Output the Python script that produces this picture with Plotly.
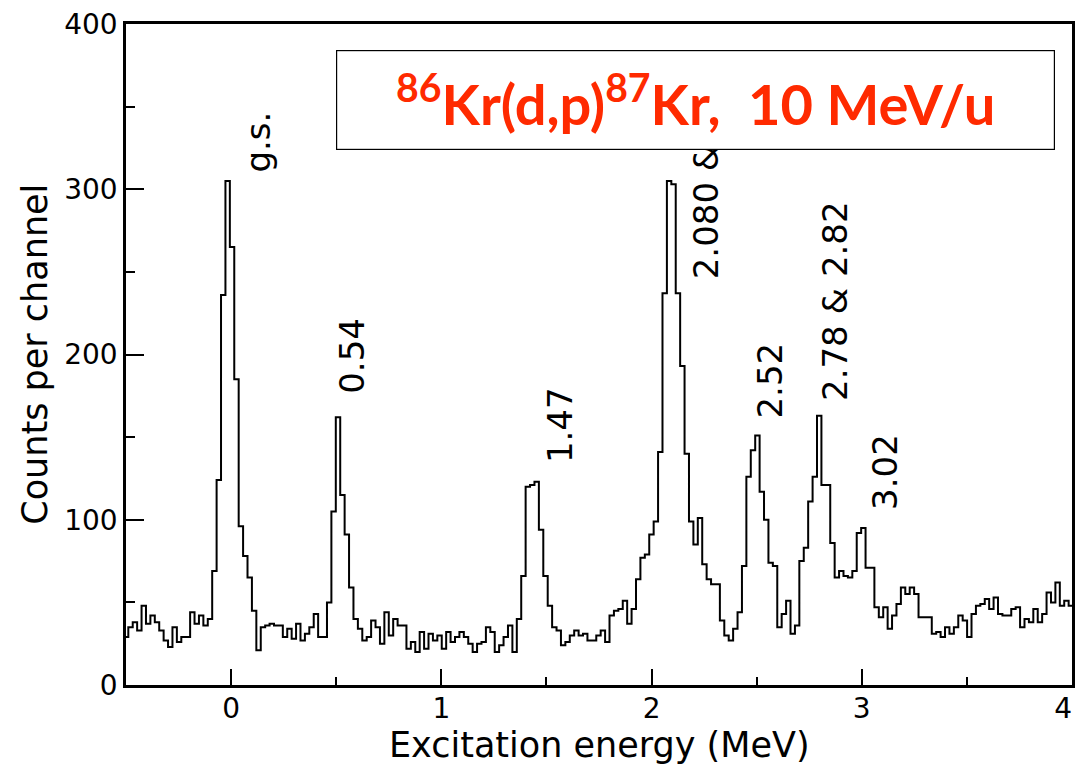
import numpy as np
import plotly.graph_objects as go

# Counts per channel, channel k covers E_START + k*CH_WIDTH
counts = [
    29, 35, 38, 33, 48, 37, 42, 38, 33, 27,
    23, 35, 26, 29, 29, 44, 37, 42, 36, 40,
    69, 124, 236, 305, 265, 185, 96, 78, 65, 45,
    21, 35, 36, 37, 36, 36, 29, 34, 28, 37,
    27, 31, 35, 43, 29, 29, 50, 105, 162, 115,
    91, 59, 40, 34, 27, 29, 39, 35, 25, 44,
    30, 40, 36, 36, 22, 26, 20, 32, 22, 31,
    27, 30, 22, 32, 26, 29, 32, 29, 25, 20,
    25, 26, 35, 32, 20, 24, 29, 36, 20, 40,
    66, 120, 121, 123, 94, 66, 48, 35, 33, 24,
    26, 30, 33, 30, 31, 27, 27, 30, 33, 26,
    42, 45, 46, 51, 37, 46, 64, 77, 79, 91,
    99, 141, 237, 305, 303, 237, 193, 140, 99, 85,
    101, 73, 64, 61, 61, 39, 30, 27, 34, 44,
    72, 126, 142, 151, 117, 100, 74, 72, 35, 43,
    51, 31, 36, 75, 83, 111, 126, 163, 121, 121,
    86, 65, 69, 66, 65, 69, 92, 95, 71, 71,
    47, 41, 47, 34, 42, 49, 59, 55, 59, 55,
    41, 41, 41, 31, 32, 29, 35, 31, 35, 42,
    39, 29, 43, 48, 49, 52, 46, 53, 43, 42,
    42, 46, 47, 35, 40, 38, 46, 38, 43, 56,
    50, 62, 48, 51, 48,
]
E_START = -0.510   # MeV, left edge of first channel
CH_WIDTH = 0.021   # MeV per channel

# Peak labels
peak_labels = ["g.s.", "0.54", "1.47", "2.080 &", "2.52", "2.78 & 2.82", "3.02"]
label_x = [0.128, 0.575, 1.564, 2.259, 2.563, 2.872, 3.11]
label_y = [308.6, 175, 133, 244, 160, 170.6, 104.7]

x_ticks = [0, 1, 2, 3, 4]
x_ticktext = ["0", "1", "2", "3", "4\u2007"]
y_ticks = [0, 100, 200, 300, 400]

edges = E_START + CH_WIDTH * np.arange(len(counts) + 1)
yvals = counts + [counts[-1]]

FONT = "DejaVu Sans"

fig = go.Figure()
fig.add_trace(go.Scatter(
    x=edges, y=yvals, mode="lines", line=dict(shape="hv", color="black", width=2),
    hoverinfo="skip", showlegend=False,
))

for t, lx, ly in zip(peak_labels, label_x, label_y):
    fig.add_annotation(x=lx, y=ly, xref="x", yref="y", text=t, textangle=-90,
                       showarrow=False, xanchor="center", yanchor="bottom",
                       font=dict(family=FONT, size=34, color="black"))

# Reaction box (drawn after labels so it covers them)
fig.add_annotation(
    xref="paper", yref="paper", x=0.602, y=0.885, xanchor="center", yanchor="middle",
    text="<b><sup>86</sup>Kr(d,p)<sup>87</sup>Kr,  10 MeV/u</b>", showarrow=False,
    font=dict(family="Comic Sans MS, Lato, sans-serif", size=56, color="#ff2a00"),
    bgcolor="white", bordercolor="black", borderwidth=1.2, borderpad=0,
    width=717, height=98, align="center", valign="middle",
)

# Axis titles
fig.add_annotation(xref="paper", yref="paper", x=0.5, y=-0.058, yanchor="top",
                   text="Excitation energy (MeV)", showarrow=False,
                   font=dict(family=FONT, size=35, color="black"))
fig.add_annotation(xref="paper", yref="paper", x=-0.097, y=0.5, xanchor="center",
                   text="Counts per channel", textangle=-90, showarrow=False,
                   font=dict(family=FONT, size=35, color="black"))

fig.update_xaxes(
    range=[-0.5, 4], tickvals=x_ticks, ticktext=x_ticktext, ticks="inside", ticklen=16, tickwidth=2,
    tickcolor="black", showline=True, linecolor="black", linewidth=2.5, mirror=True,
    showgrid=False, zeroline=False, tickfont=dict(family=FONT, size=28, color="black"),
    minor=dict(dtick=0.5, ticks="inside", ticklen=8, tickwidth=2, tickcolor="black", showgrid=False),
    ticklabelstandoff=-3, ticklabeloverflow="allow", automargin=False,
)
fig.update_yaxes(
    range=[0, 400], tickvals=y_ticks, ticks="inside", ticklen=18, tickwidth=2,
    tickcolor="black", showline=True, linecolor="black", linewidth=2.5, mirror=True,
    showgrid=False, zeroline=False, tickfont=dict(family=FONT, size=28, color="black"),
    minor=dict(dtick=50, ticks="inside", ticklen=9, tickwidth=2, tickcolor="black", showgrid=False),
    ticklabelstandoff=0, ticklabeloverflow="allow", automargin=False,
)
fig.update_layout(
    width=1077, height=768, margin=dict(l=126, r=5, t=24, b=83),
    plot_bgcolor="white", paper_bgcolor="white",
)
fig.write_html("out.html")
